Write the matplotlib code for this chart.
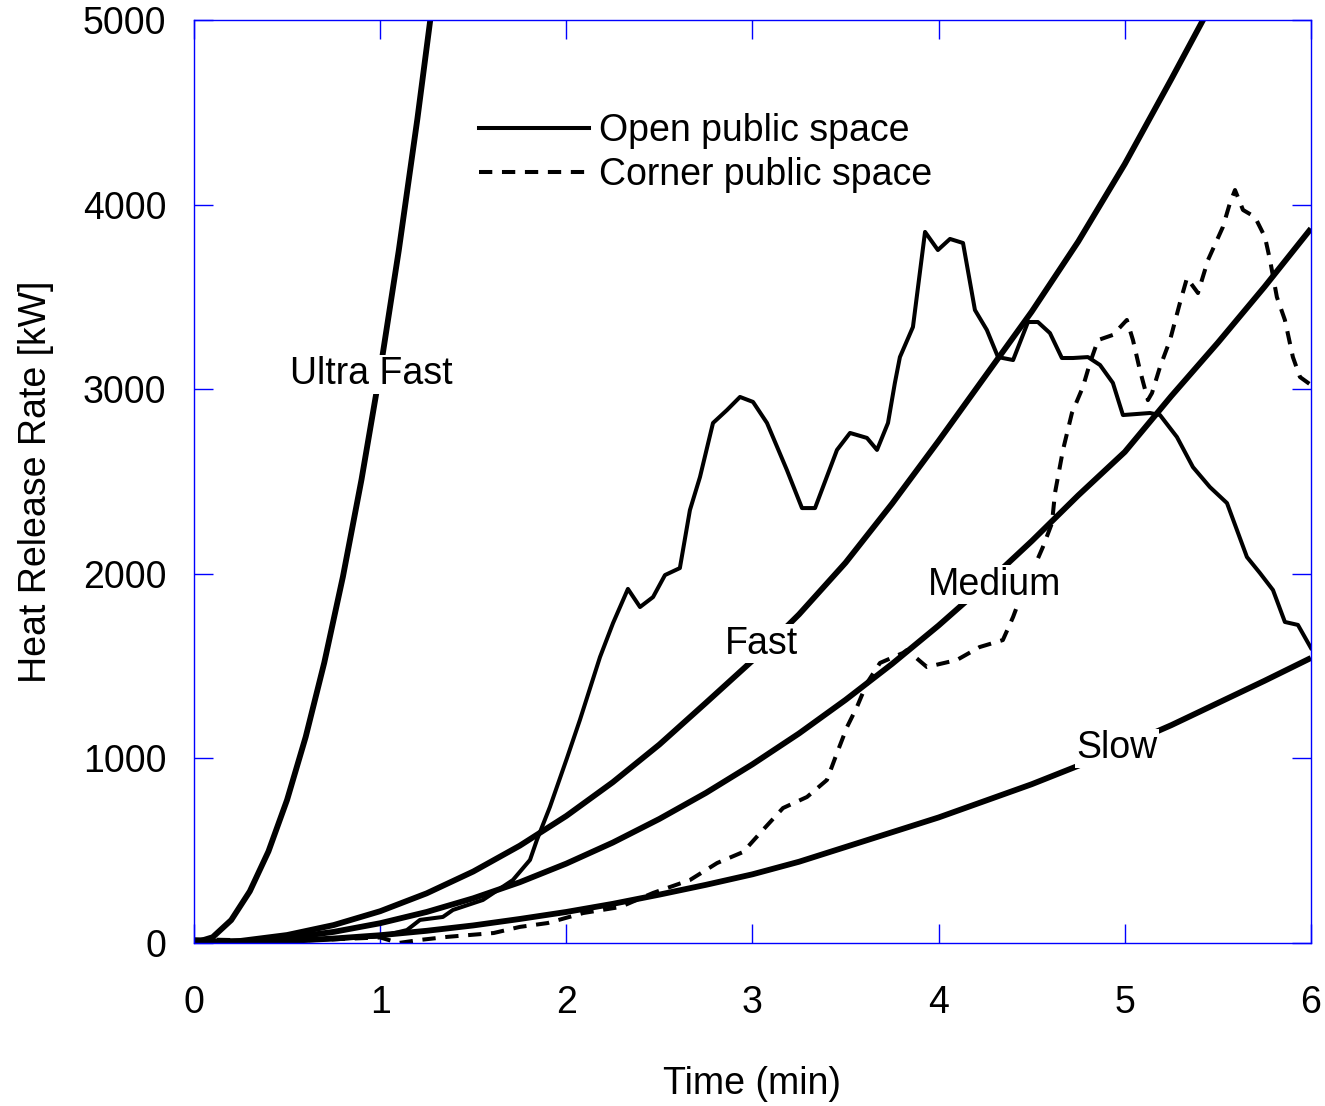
import matplotlib
matplotlib.use("Agg")
import matplotlib.pyplot as plt

plt.rcParams["font.family"] = ["Liberation Sans", "DejaVu Sans"]

# design fire curves (time in min, HRR in kW)
t_ultra = [0, 0.1, 0.2, 0.3, 0.4, 0.5, 0.6, 0.7, 0.8, 0.9, 1.0, 1.1, 1.2, 1.3]
q_ultra = [0, 31, 124, 280, 496, 775, 1116, 1519, 1984, 2511, 3100, 3751, 4464, 5239]

t_design = [0, 0.25, 0.5, 0.75, 1.0, 1.25, 1.5, 1.75, 2.0, 2.25, 2.5, 2.75, 3.0,
            3.25, 3.5, 3.75, 4.0, 4.25, 4.5, 4.75, 5.0, 5.25, 5.5, 5.75, 6.0]
q_fast = [0, 11, 43, 97, 172, 269, 387, 527, 688, 871, 1075, 1301, 1530,
          1780, 2060, 2380, 2720, 3070, 3420, 3800, 4220, 4680, 5150, 5650, 6150]
q_medium = [0, 7, 27, 60, 107, 168, 242, 329, 430, 544, 672, 813, 968,
            1135, 1317, 1512, 1720, 1942, 2177, 2425, 2660, 2963, 3252, 3554, 3870]
q_slow = [0, 3, 11, 24, 42, 66, 95, 130, 168, 212, 262, 315, 372,
          440, 520, 600, 680, 770, 860, 960, 1070, 1180, 1300, 1420, 1544]

# measured curves
t_open = [0, 0.5, 1.0, 1.144, 1.214, 1.337, 1.391, 1.552, 1.713, 1.805, 1.842, 1.912,
          2.003, 2.073, 2.181, 2.251, 2.331, 2.396, 2.466, 2.53, 2.61, 2.664, 2.718,
          2.788, 2.863, 2.933, 3.003, 3.078, 3.185, 3.266, 3.336, 3.454, 3.524, 3.615,
          3.669, 3.728, 3.765, 3.792, 3.862, 3.927, 3.996, 4.061, 4.131, 4.195, 4.259,
          4.319, 4.4, 4.48, 4.533, 4.598, 4.662, 4.722, 4.802, 4.867, 4.936, 4.99,
          5.135, 5.189, 5.28, 5.366, 5.457, 5.549, 5.656, 5.726, 5.796, 5.86, 5.93, 6.0]
q_open = [15, 10, 35, 70, 125, 141, 179, 233, 341, 450, 558, 737,
          1000, 1208, 1549, 1733, 1918, 1820, 1874, 1993, 2031, 2345, 2524,
          2817, 2887, 2958, 2931, 2817, 2562, 2356, 2356, 2671, 2763, 2736,
          2671, 2817, 3034, 3174, 3337, 3852, 3754, 3814, 3792, 3429, 3321,
          3174, 3158, 3364, 3364, 3304, 3169, 3169, 3174, 3131, 3034, 2860,
          2871, 2860, 2741, 2578, 2470, 2383, 2091, 2004, 1912, 1739, 1723, 1598]

t_corner = [0, 0.5, 1.0, 1.1, 1.21, 1.36, 1.61, 1.75, 1.9, 2.09, 2.29, 2.466, 2.664,
            2.81, 2.95, 3.056, 3.164, 3.293, 3.4, 3.454, 3.508, 3.561, 3.615, 3.685,
            3.808, 3.83, 3.937, 4.098, 4.22, 4.345, 4.4, 4.42, 4.56, 4.609, 4.625,
            4.668, 4.716, 4.775, 4.813, 4.856, 4.936, 5.011, 5.044, 5.081, 5.124,
            5.146, 5.189, 5.243, 5.296, 5.334, 5.393, 5.447, 5.527, 5.565, 5.592,
            5.635, 5.699, 5.753, 5.78, 5.817, 5.86, 5.903, 5.941, 6.0]
q_corner = [20, 10, 30, 0, 16, 33, 54, 87, 108, 162, 195, 271, 341,
            433, 493, 612, 731, 791, 883, 1029, 1170, 1278, 1408, 1517,
            1571, 1587, 1495, 1533, 1603, 1641, 1766, 1820, 2145, 2275, 2438,
            2671, 2871, 3012, 3142, 3266, 3294, 3375, 3266, 3104, 2941,
            2979, 3120, 3266, 3467, 3602, 3521, 3700, 3879, 4009, 4079,
            3971, 3933, 3824, 3700, 3499, 3375, 3174, 3066, 3023]

x_ticks = [0, 1, 2, 3, 4, 5, 6]
y_ticks = [0, 1000, 2000, 3000, 4000, 5000]

fs = 27

fig = plt.figure(figsize=(13.25, 11.06), dpi=100)
ax = fig.add_axes([0.1464, 0.1474, 0.8430, 0.8345])

design_lw = 4.2
ax.plot(t_ultra, q_ultra, color="black", lw=design_lw, solid_capstyle="butt")
ax.plot(t_design, q_fast, color="black", lw=design_lw, solid_capstyle="butt")
ax.plot(t_design, q_medium, color="black", lw=design_lw, solid_capstyle="butt")
ax.plot(t_design, q_slow, color="black", lw=design_lw, solid_capstyle="butt")

ax.plot(t_open, q_open, color="black", lw=2.9, label="Open public space")
ax.plot(t_corner, q_corner, color="black", lw=2.9, dashes=(3.3, 2.4),
        label="Corner public space")

# curve names, white box cuts the lines like in the original
box = dict(facecolor="white", edgecolor="none", pad=1.0)
ax.text(0.955, 3080, "Ultra Fast", fontsize=fs, ha="center", va="center", bbox=box, zorder=5)
ax.text(3.05, 1620, "Fast", fontsize=fs, ha="center", va="center", bbox=box, zorder=5)
ax.text(4.3, 1940, "Medium", fontsize=fs, ha="center", va="center", bbox=box, zorder=5)
ax.text(4.96, 1055, "Slow", fontsize=fs, ha="center", va="center", bbox=box, zorder=5)

ax.set_xlim(0, 6)
ax.set_ylim(0, 5000)
ax.set_xticks(x_ticks)
ax.set_yticks(y_ticks)

for side in ax.spines.values():
    side.set_color("blue")
    side.set_linewidth(1.0)

ax.tick_params(axis="both", direction="in", length=14, width=1.0, color="blue",
               labelsize=fs, labelcolor="black", top=True, right=True)
ax.tick_params(axis="x", pad=30)
ax.tick_params(axis="y", pad=20)

ax.set_xlabel("Time (min)", fontsize=fs, labelpad=33)
ax.set_ylabel("Heat Release Rate [kW]", fontsize=fs, labelpad=21)

ax.legend(loc="upper left", bbox_to_anchor=(0.242, 0.915), frameon=False, fontsize=fs,
          handlelength=2.93, handletextpad=0.27, labelspacing=0.2, borderaxespad=0)

fig.savefig("out.png", dpi=100, facecolor="white")
